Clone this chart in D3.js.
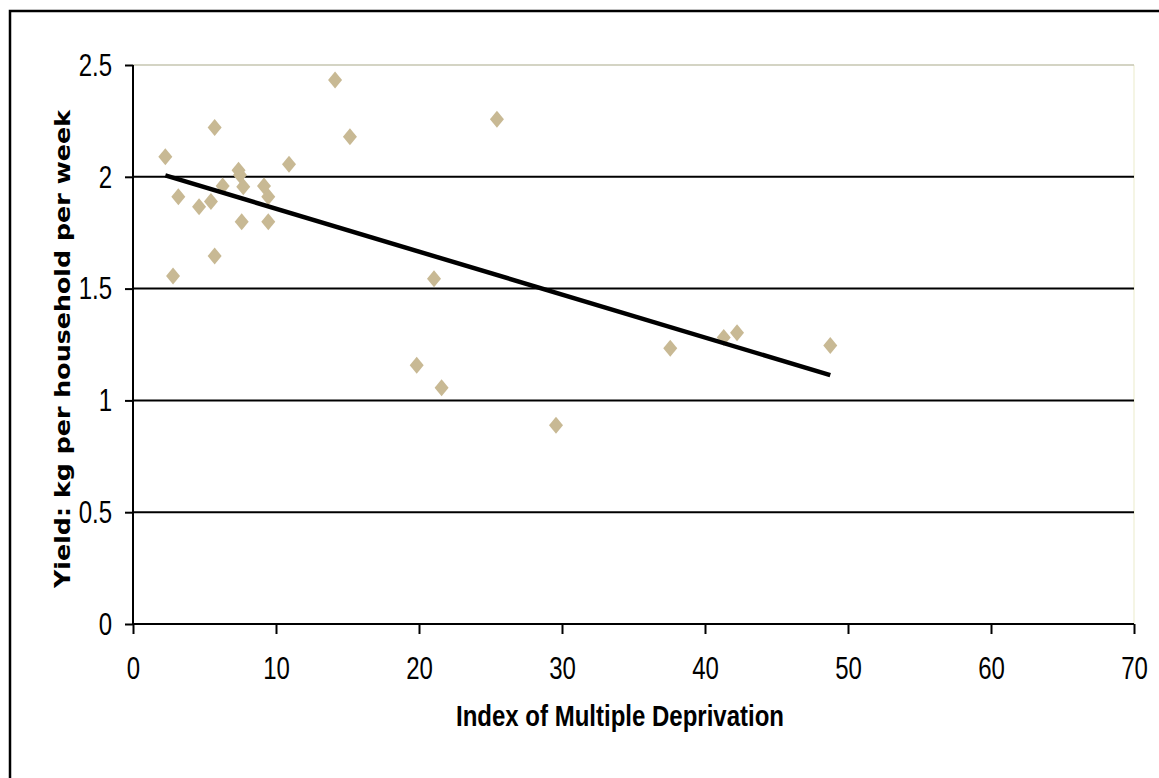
<!DOCTYPE html>
<html>
<head>
<meta charset="utf-8">
<script src="https://cdn.jsdelivr.net/npm/d3@7/dist/d3.min.js"></script>
<style>
  html, body { margin: 0; padding: 0; background: #fff; }
  svg { display: block; }
  .tick text { font-family: "Liberation Sans", Arial, sans-serif; font-size: 32px; fill: #000; }
</style>
</head>
<body>
<svg id="chart" width="1159" height="778"></svg>
<script>
// Index of Multiple Deprivation (x) vs yield in kg per household per week (y)
const imd   = [2.26, 3.17, 2.80, 4.62, 5.45, 5.71, 5.71, 6.27, 7.38, 7.48, 7.71, 7.60, 9.16, 9.46, 9.46, 10.91,
               14.13, 15.17, 25.45, 21.05, 19.84, 21.58, 29.58, 37.57, 41.31, 42.24, 48.76];
const yieldKg = [2.09, 1.911, 1.556, 1.866, 1.889, 2.221, 1.646, 1.959, 2.029, 2.008, 1.956, 1.799, 1.959, 1.911, 1.799, 2.056,
               2.433, 2.179, 2.257, 1.544, 1.157, 1.057, 0.889, 1.233, 1.281, 1.303, 1.245];
const xTicks = [0, 10, 20, 30, 40, 50, 60, 70];
const yTicks = [0, 0.5, 1, 1.5, 2, 2.5];
const yTickLabels = ["0", "0.5", "1", "1.5", "2", "2.5"];

const points = imd.map((v, i) => ({ x: v, y: yieldKg[i] }));

const svg = d3.select("#chart");
const W = 1159, H = 778;
const plotL = 133, plotR = 1134, plotT = 65, plotB = 624;
const squeeze = 0.75;   // horizontal squeeze for the condensed tick labels

const x = d3.scaleLinear().domain([0, 70]).range([plotL, plotR]);
const y = d3.scaleLinear().domain([0, 2.5]).range([plotB, plotT]);

// outer frame
svg.append("rect")
  .attr("x", 10).attr("y", 11)
  .attr("width", W).attr("height", H)
  .attr("fill", "none").attr("stroke", "#000").attr("stroke-width", 2.5);

// faint right edge of plot area
svg.append("line")
  .attr("x1", plotR).attr("x2", plotR)
  .attr("y1", plotT).attr("y2", plotB)
  .attr("stroke", "#f2f2dc").attr("stroke-width", 1.5);

// horizontal gridlines
svg.append("g").selectAll("line")
  .data(yTicks.filter(d => d > 0))
  .join("line")
  .attr("x1", plotL).attr("x2", plotR)
  .attr("y1", d => y(d)).attr("y2", d => y(d))
  .attr("stroke", d => d === 2.5 ? "#c6c6b0" : "#000")
  .attr("stroke-width", d => d === 2.5 ? 1.5 : 2);

// axes
const yAxis = svg.append("g")
  .attr("transform", `translate(${plotL},0)`)
  .call(d3.axisLeft(y).tickValues(yTicks).tickSize(8).tickPadding(13)
        .tickFormat((d, i) => yTickLabels[i]));
const xAxis = svg.append("g")
  .attr("transform", `translate(0,${plotB})`)
  .call(d3.axisBottom(x).tickValues(xTicks).tickSize(10).tickPadding(22)
        .tickFormat(d3.format("d")));

[yAxis, xAxis].forEach(g => {
  g.select(".domain").attr("stroke", "#000").attr("stroke-width", 2);
  g.selectAll(".tick line").attr("stroke", "#000").attr("stroke-width", 2);
});
xAxis.select(".domain").attr("d", `M${plotL},0H${plotR}`);
yAxis.select(".domain").attr("d", `M0,${plotB}V${plotT}`);

// condensed look for tick labels
xAxis.selectAll(".tick text").attr("transform", `scale(${squeeze},1)`);
yAxis.selectAll(".tick text")
  .attr("x", -21 / squeeze)
  .attr("transform", `scale(${squeeze},1)`);

// linear trend line (least squares)
const mx = d3.mean(imd), my = d3.mean(yieldKg);
const sxy = d3.sum(points, p => (p.x - mx) * (p.y - my));
const sxx = d3.sum(points, p => (p.x - mx) * (p.x - mx));
const slope = sxy / sxx, intercept = my - slope * mx;
const [xmin, xmax] = d3.extent(imd);

// diamond markers
const diamond = (cx, cy) => `M${cx},${cy - 8.5}L${cx + 7},${cy}L${cx},${cy + 8.5}L${cx - 7},${cy}Z`;
svg.append("g").selectAll("path")
  .data(points)
  .join("path")
  .attr("d", d => diamond(x(d.x), y(d.y)))
  .attr("fill", "#c8b994");

svg.append("line")
  .attr("x1", x(xmin)).attr("y1", y(intercept + slope * xmin))
  .attr("x2", x(xmax)).attr("y2", y(intercept + slope * xmax))
  .attr("stroke", "#000").attr("stroke-width", 4.5);

// axis titles
svg.append("text")
  .attr("x", 620).attr("y", 726)
  .attr("text-anchor", "middle")
  .attr("font-family", "'Liberation Sans', Arial, sans-serif")
  .attr("font-weight", "bold").attr("font-size", 29)
  .attr("textLength", 328).attr("lengthAdjust", "spacingAndGlyphs")
  .text("Index of Multiple Deprivation");

svg.append("text")
  .attr("transform", "translate(70,349) rotate(-90)")
  .attr("text-anchor", "middle")
  .attr("font-family", "'DejaVu Sans', Verdana, sans-serif")
  .attr("font-weight", "bold").attr("font-size", 22)
  .attr("textLength", 478).attr("lengthAdjust", "spacingAndGlyphs")
  .text("Yield: kg per household per week");
</script>
</body>
</html>
